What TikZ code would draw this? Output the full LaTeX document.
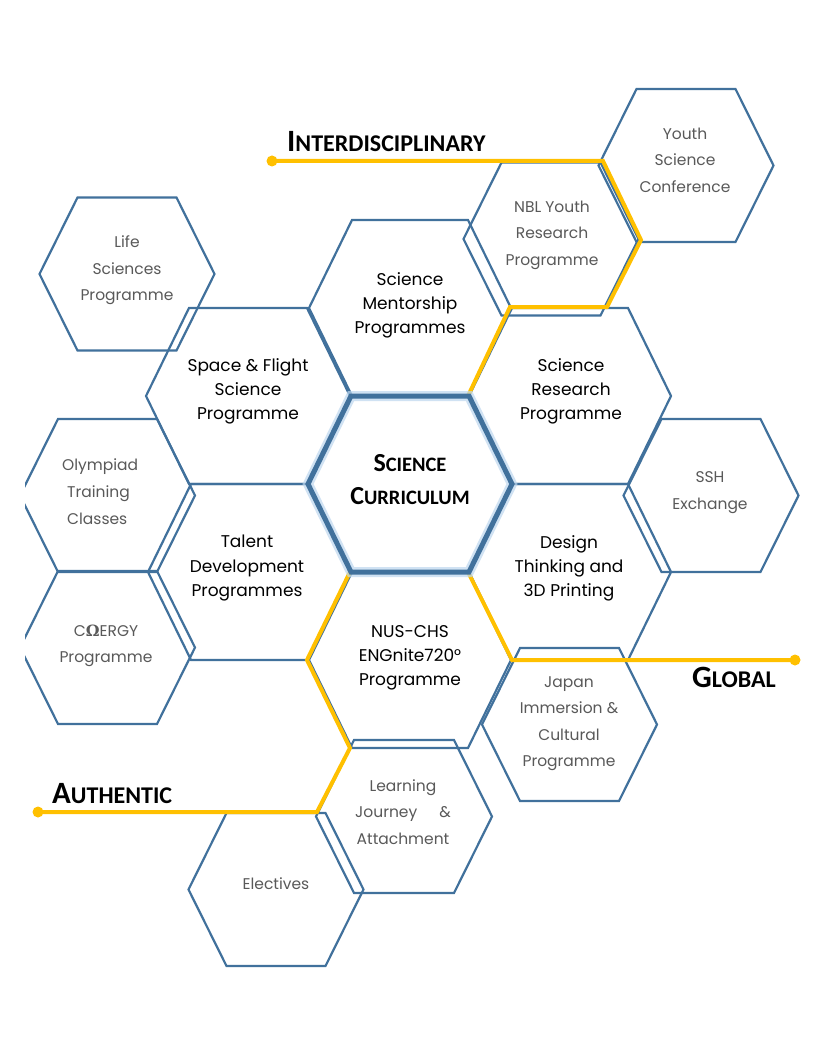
\documentclass[tikz,border=0pt]{standalone}
\usepackage{fontspec}
\setmainfont{Carlito}
\newfontfamily\hand{Poppins}
\newfontfamily\greekface{DejaVu Serif}

\definecolor{hexblue}{HTML}{41719C}
\definecolor{hexglow}{HTML}{BDD7EE}
\definecolor{trackgold}{HTML}{FFC000}
\definecolor{softgray}{HTML}{595959}

% flat-topped hexagon: [style] {cx}{cy}{half width}{half height}{corner inset}
\newcommand{\hexcell}[6][]{%
  \draw[hexline,#1] ({#2-#4},{#3}) -- ({#2-#4+#6},{#3-#5}) -- ({#2+#4-#6},{#3-#5})
    -- ({#2+#4},{#3}) -- ({#2+#4-#6},{#3+#5}) -- ({#2-#4+#6},{#3+#5}) -- cycle;}
\newcommand{\bighex}[3][]{\hexcell[#1]{#2}{#3}{101}{88}{43}}
\newcommand{\smallhex}[3][]{\hexcell[#1]{#2}{#3}{87.5}{76.5}{38}}

% small capitals set by hand: large initial, smaller rest (line spacing kept)
\newcommand{\capsword}[4]{{\bfseries\fontsize{#1}{\baselineskip}\selectfont #3\fontsize{#2}{\baselineskip}\selectfont #4}}

\tikzset{
  hexline/.style={draw=hexblue, line width=2.2pt, line join=miter},
  track/.style={draw=trackgold, line width=4pt, line join=miter},
  trackdot/.style={circle, fill=trackgold, inner sep=0pt, minimum size=11pt},
  core/.style={font=\hand\fontsize{17}{24}\selectfont, text=black, align=center, inner sep=0pt},
  outer/.style={font=\hand\fontsize{15.5}{26.5}\selectfont, text=softgray, align=center, inner sep=0pt},
  theme/.style={anchor=base west, inner sep=0pt, text=black},
}

\begin{document}
\begin{tikzpicture}[x=1pt, y=-1pt]
\useasboundingbox[fill=white] (0,0) rectangle (816,1056);

% outer ring of programmes
\begin{scope}
  \clip (25,0) rectangle (816,1056);
  \smallhex{127}{274}
  \smallhex{686}{165.5}
  \smallhex{551}{239}
  \smallhex{107.5}{495.5}
  \smallhex{107.5}{647.5}
  \smallhex{711}{495.5}
  \smallhex{569.5}{724.5}
  \hexcell{404}{816.5}{88}{76.5}{38}
  \smallhex{276}{889.5}
\end{scope}

% inner ring of programmes
\bighex{410}{308}
\bighex{570}{396}
\hexcell{248}{396}{102}{88}{43}
\bighex{249}{572}
\bighex{570}{572}
\bighex{410}{660}

% theme tracks
\node[trackdot] (dotI) at (272,161) {};
\node[trackdot] (dotG) at (795,660) {};
\node[trackdot] (dotA) at (38,812) {};
\coordinate (endI) at (468,396);
\coordinate (endG) at (468,572);
\coordinate (endA) at (350,572);
\draw[track] (dotI.center) -- (603,161) -- (641,240) -- (607,307) -- (510,307) -- (endI);
\draw[track] (dotG.center) -- (512,660) -- (endG);
\draw[track] (dotA.center) -- (317,812) -- (350,748) -- (307,660) -- (endA);

% central hexagon with soft halo
\hexcell[draw=hexglow, line width=10pt, opacity=0.7]{410}{484}{102}{88}{43}
\hexcell[line width=5pt]{410}{484}{102}{88}{43}

% theme labels
\node[theme] (interdisciplinary) at (287,152) {\capsword{31}{24}{I}{NTERDISCIPLINARY}};
\node[theme] (global) at (692,687) {\capsword{31}{24}{G}{LOBAL}};
\node[theme] (authentic) at (52,803) {\capsword{31}{24}{A}{UTHENTIC}};

% centre
\node[align=center, inner sep=0pt, font=\fontsize{26}{33}\selectfont] (curriculum) at (410,480)
  {\capsword{26}{20.5}{S}{CIENCE}\\\capsword{26}{20.5}{C}{URRICULUM}};

% inner ring texts
\node[core] (mentorship) at (410,305) {Science\\Mentorship\\Programmes};
\node[core] (research) at (571,391) {Science\\Research\\Programme};
\node[core] (spaceflight) at (248,391) {Space \& Flight\\Science\\Programme};
\node[core] (talent) at (247,568) {Talent\\Development\\Programmes};
\node[core] (design) at (569,568) {Design\\Thinking and\\3D Printing};
\node[core] (nuschs) at (410,658) {NUS-CHS\\ENGnite720°\\Programme};

% outer ring texts
\node[outer] (life) at (127,270.5) {Life\\Sciences\\Programme};
\node[outer] (youth) at (685,160) {Youth\\Science\\Conference};
\node[outer] (nbl) at (552,235) {NBL Youth\\Research\\Programme};
\node[outer, align=left, anchor=north west] (olympiad) at (62,459) {Olympiad\\\hspace*{5pt}Training\\\hspace*{5pt}Classes};
\node[outer] (coergy) at (106,646) {C{\greekface\bfseries Ω}ERGY\\Programme};
\node[outer] (ssh) at (710,492.5) {SSH\\Exchange};
\node[outer] (japan) at (569,723.5) {Japan\\Immersion \&\\Cultural\\Programme};
\node[outer] (learning) at (403,812) {Learning\\Journey\hspace{22pt}\&\\Attachment};
\node[outer] (electives) at (276,884) {Electives};

\end{tikzpicture}
\end{document}
